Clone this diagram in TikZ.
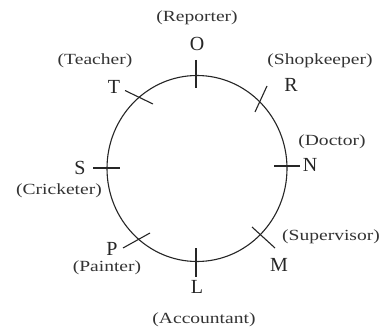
\documentclass[tikz,border=0pt]{standalone}
\usepackage{fontspec}
\setmainfont{Liberation Serif}
\newcommand{\lblstretch}[1]{\scalebox{1.26}[1]{#1}}
\begin{document}
\begin{tikzpicture}[x=1pt,y=1pt,
  ring/.style={line width=1.1pt, draw=black!85},
  tickline/.style={line width=1.1pt, draw=black!85},
  letter/.style={inner sep=0pt, font=\fontsize{20}{22}\selectfont, text=black!85},
  job/.style={inner sep=0pt, font=\fontsize{15.5}{17}\selectfont, text=black!80}]
\useasboundingbox (0,0) rectangle (382,-331);
\fill[white] (0,0) rectangle (382,-331);
\draw[ring] (197,-168.5) ellipse [x radius=90, y radius=93];
% tick end points
\coordinate (o1) at (196,-60);  \coordinate (o2) at (196,-88);
\coordinate (t1) at (125,-90.5); \coordinate (t2) at (153,-104);
\coordinate (r1) at (267,-86);  \coordinate (r2) at (255,-112);
\coordinate (s1) at (93,-168);  \coordinate (s2) at (120,-168);
\coordinate (n1) at (274,-166); \coordinate (n2) at (300,-166);
\coordinate (p1) at (123,-248); \coordinate (p2) at (150,-233);
\coordinate (m1) at (252,-227); \coordinate (m2) at (275,-248);
\coordinate (l1) at (196,-248); \coordinate (l2) at (196,-277);
\foreach \a in {o,t,r,s,n,p,m,l} \draw[tickline] (\a1) -- (\a2);
% letters
\node[letter] (O) at (197,-44) {O};
\node[letter] (T) at (114,-87) {T};
\node[letter] (R) at (291,-85) {R};
\node[letter] (N) at (310,-165) {N};
\node[letter] (S) at (80,-168) {S};
\node[letter] (P) at (112,-249) {P};
\node[letter] (L) at (197,-287) {L};
\node[letter] (M) at (279,-265) {M};
% jobs
\node[job] (jO) at (197,-18) {\lblstretch{(Reporter)}};
\node[job] (jT) at (95,-61) {\lblstretch{(Teacher)}};
\node[job] (jR) at (320,-61) {\lblstretch{(Shopkeeper)}};
\node[job] (jN) at (332,-142) {\lblstretch{(Doctor)}};
\node[job] (jS) at (59,-191) {\lblstretch{(Cricketer)}};
\node[job] (jP) at (107,-268) {\lblstretch{(Painter)}};
\node[job] (jL) at (204,-320) {\lblstretch{(Accountant)}};
\node[job] (jM) at (331,-237) {\lblstretch{(Supervisor)}};
\end{tikzpicture}
\end{document}
